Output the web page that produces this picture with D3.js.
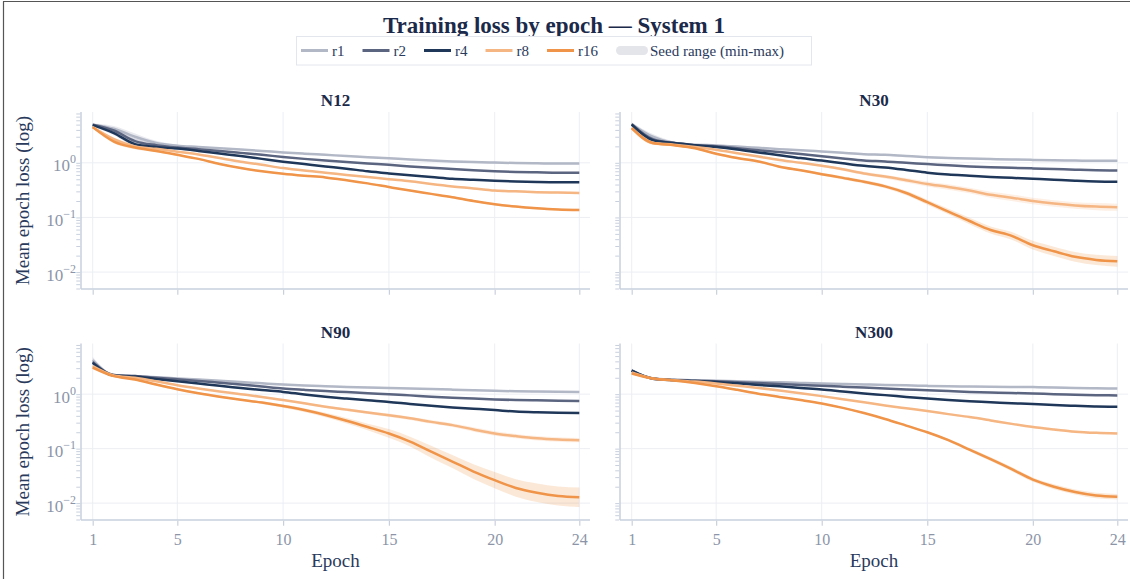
<!DOCTYPE html>
<html>
<head>
<meta charset="utf-8">
<script src="https://cdn.jsdelivr.net/npm/d3@7"></script>
<style>
  html, body { margin: 0; padding: 0; background: #fff; }
  svg { display: block; font-family: "Liberation Serif", "DejaVu Serif", serif; }
</style>
</head>
<body>
<svg id="chart" width="1130" height="579"></svg>
<script>
// ---- data -------------------------------------------------------------
const epochs = [1,2,3,4,5,6,7,8,9,10,11,12,13,14,15,16,17,18,19,20,21,22,23,24];
const ranks = ["r1", "r2", "r4", "r8", "r16"];
const panelNames = ["N12", "N30", "N90", "N300"];
const xTickValues = [1, 5, 10, 15, 20, 24];
const yDecades = [0.01, 0.1, 1];
const yDecadeExp = ["\u22122", "\u22121", "0"];

// mean epoch loss across seeds, one row per rank (r1, r2, r4, r8, r16)
const lossN12 = [
  [5.0, 4.2, 3.0, 2.3, 2.05, 1.95, 1.85, 1.75, 1.65, 1.55, 1.47, 1.40, 1.33, 1.27, 1.21, 1.15, 1.10, 1.06, 1.03, 1.01, 0.99, 0.98, 0.97, 0.97],
  [5.0, 3.9, 2.5, 2.1, 1.9, 1.78, 1.65, 1.52, 1.40, 1.28, 1.18, 1.10, 1.03, 0.97, 0.92, 0.86, 0.81, 0.77, 0.73, 0.70, 0.68, 0.67, 0.66, 0.66],
  [4.9, 3.5, 2.2, 1.95, 1.82, 1.65, 1.48, 1.33, 1.18, 1.05, 0.95, 0.86, 0.78, 0.70, 0.64, 0.59, 0.55, 0.51, 0.49, 0.47, 0.455, 0.445, 0.44, 0.44],
  [4.5, 2.7, 2.0, 1.8, 1.6, 1.42, 1.22, 1.05, 0.92, 0.80, 0.72, 0.66, 0.60, 0.55, 0.50, 0.46, 0.41, 0.37, 0.34, 0.31, 0.30, 0.29, 0.285, 0.28],
  [4.5, 2.45, 1.9, 1.65, 1.40, 1.18, 0.95, 0.80, 0.70, 0.63, 0.58, 0.54, 0.48, 0.42, 0.36, 0.31, 0.27, 0.235, 0.20, 0.175, 0.158, 0.147, 0.14, 0.137]
];
const lossN30 = [
  [5.1, 3.0, 2.3, 2.15, 2.08, 1.98, 1.88, 1.78, 1.70, 1.61, 1.52, 1.44, 1.40, 1.33, 1.27, 1.23, 1.20, 1.17, 1.15, 1.13, 1.11, 1.10, 1.09, 1.09],
  [5.1, 2.7, 2.3, 2.1, 2.0, 1.85, 1.70, 1.57, 1.45, 1.32, 1.20, 1.10, 1.06, 1.00, 0.95, 0.90, 0.86, 0.83, 0.81, 0.79, 0.77, 0.75, 0.73, 0.72],
  [5.0, 2.6, 2.3, 2.1, 1.94, 1.75, 1.55, 1.38, 1.22, 1.10, 0.98, 0.88, 0.82, 0.74, 0.66, 0.61, 0.58, 0.55, 0.53, 0.51, 0.49, 0.47, 0.455, 0.45],
  [4.3, 2.3, 2.15, 1.95, 1.73, 1.5, 1.30, 1.13, 1.0, 0.88, 0.76, 0.64, 0.56, 0.48, 0.41, 0.36, 0.31, 0.26, 0.23, 0.20, 0.18, 0.166, 0.158, 0.154],
  [4.3, 2.3, 2.1, 1.85, 1.46, 1.22, 1.06, 0.85, 0.73, 0.62, 0.53, 0.45, 0.37, 0.28, 0.19, 0.128, 0.086, 0.059, 0.046, 0.031, 0.024, 0.019, 0.0167, 0.0157]
];
const lossN90 = [
  [4.2, 2.25, 2.15, 2.05, 1.94, 1.85, 1.76, 1.67, 1.58, 1.50, 1.44, 1.40, 1.36, 1.33, 1.30, 1.27, 1.24, 1.21, 1.18, 1.15, 1.13, 1.12, 1.11, 1.10],
  [3.9, 2.25, 2.15, 2.0, 1.88, 1.75, 1.62, 1.50, 1.38, 1.27, 1.20, 1.14, 1.09, 1.04, 1.00, 0.95, 0.90, 0.86, 0.83, 0.80, 0.78, 0.77, 0.76, 0.75],
  [3.75, 2.2, 2.1, 1.9, 1.73, 1.57, 1.42, 1.30, 1.19, 1.10, 0.99, 0.90, 0.83, 0.77, 0.72, 0.66, 0.61, 0.57, 0.54, 0.51, 0.48, 0.465, 0.455, 0.45],
  [3.26, 2.2, 2.0, 1.72, 1.46, 1.27, 1.12, 1.00, 0.89, 0.78, 0.68, 0.59, 0.52, 0.46, 0.41, 0.36, 0.31, 0.27, 0.225, 0.19, 0.17, 0.155, 0.147, 0.143],
  [3.08, 2.14, 1.86, 1.5, 1.23, 1.04, 0.90, 0.79, 0.70, 0.605, 0.51, 0.415, 0.325, 0.25, 0.19, 0.135, 0.088, 0.058, 0.038, 0.0264, 0.019, 0.0155, 0.0135, 0.0128]
];
const lossN300 = [
  [2.75, 1.94, 1.85, 1.80, 1.76, 1.72, 1.68, 1.65, 1.61, 1.57, 1.54, 1.51, 1.48, 1.45, 1.42, 1.40, 1.38, 1.37, 1.36, 1.35, 1.33, 1.30, 1.28, 1.27],
  [2.7, 1.94, 1.82, 1.76, 1.72, 1.66, 1.60, 1.54, 1.48, 1.42, 1.37, 1.32, 1.27, 1.22, 1.18, 1.14, 1.10, 1.07, 1.05, 1.03, 1.0, 0.98, 0.96, 0.95],
  [2.7, 1.92, 1.80, 1.74, 1.68, 1.58, 1.48, 1.39, 1.30, 1.22, 1.12, 1.03, 0.96, 0.89, 0.83, 0.78, 0.74, 0.71, 0.68, 0.66, 0.63, 0.61, 0.595, 0.585],
  [2.5, 1.94, 1.80, 1.70, 1.57, 1.43, 1.30, 1.17, 1.04, 0.92, 0.81, 0.71, 0.62, 0.55, 0.49, 0.43, 0.38, 0.33, 0.285, 0.25, 0.225, 0.205, 0.195, 0.19],
  [2.4, 1.94, 1.78, 1.60, 1.40, 1.20, 1.02, 0.89, 0.78, 0.675, 0.56, 0.45, 0.35, 0.265, 0.20, 0.143, 0.096, 0.064, 0.042, 0.027, 0.020, 0.016, 0.0138, 0.0131]
];

// seed min-max half-width around the mean, in decades (log10 units)
const spreadN12 = [
  [0.02, 0.05, 0.06, 0.04, 0.02, 0.015, 0.015, 0.015, 0.015, 0.015, 0.015, 0.015, 0.015, 0.015, 0.015, 0.015, 0.015, 0.015, 0.015, 0.015, 0.015, 0.015, 0.015, 0.015],
  [0.02, 0.04, 0.05, 0.03, 0.02, 0.015, 0.015, 0.015, 0.015, 0.015, 0.015, 0.015, 0.015, 0.015, 0.015, 0.015, 0.015, 0.015, 0.015, 0.015, 0.015, 0.015, 0.015, 0.015],
  [0.02, 0.04, 0.04, 0.03, 0.02, 0.015, 0.015, 0.015, 0.015, 0.015, 0.015, 0.015, 0.015, 0.015, 0.015, 0.015, 0.015, 0.015, 0.015, 0.015, 0.015, 0.015, 0.015, 0.015],
  [0.02, 0.03, 0.03, 0.02, 0.015, 0.015, 0.015, 0.015, 0.015, 0.015, 0.015, 0.015, 0.015, 0.015, 0.015, 0.015, 0.015, 0.015, 0.015, 0.02, 0.02, 0.02, 0.02, 0.02],
  [0.02, 0.03, 0.03, 0.02, 0.015, 0.015, 0.015, 0.015, 0.015, 0.015, 0.015, 0.015, 0.015, 0.015, 0.015, 0.015, 0.015, 0.015, 0.02, 0.02, 0.02, 0.02, 0.02, 0.02]
];
const spreadN30 = [
  [0.03, 0.05, 0.03, 0.02, 0.015, 0.015, 0.015, 0.015, 0.015, 0.015, 0.015, 0.015, 0.015, 0.015, 0.015, 0.015, 0.015, 0.015, 0.015, 0.015, 0.015, 0.015, 0.015, 0.015],
  [0.03, 0.05, 0.03, 0.02, 0.015, 0.015, 0.015, 0.015, 0.015, 0.015, 0.015, 0.015, 0.015, 0.015, 0.015, 0.015, 0.015, 0.015, 0.015, 0.015, 0.015, 0.015, 0.015, 0.015],
  [0.03, 0.04, 0.03, 0.02, 0.015, 0.015, 0.015, 0.015, 0.015, 0.015, 0.015, 0.015, 0.015, 0.015, 0.015, 0.015, 0.015, 0.015, 0.015, 0.015, 0.015, 0.015, 0.015, 0.015],
  [0.02, 0.03, 0.02, 0.015, 0.015, 0.015, 0.015, 0.015, 0.015, 0.02, 0.025, 0.03, 0.035, 0.04, 0.045, 0.05, 0.05, 0.055, 0.06, 0.06, 0.06, 0.06, 0.065, 0.065],
  [0.02, 0.03, 0.02, 0.02, 0.02, 0.02, 0.02, 0.02, 0.02, 0.025, 0.03, 0.03, 0.035, 0.04, 0.045, 0.05, 0.06, 0.065, 0.07, 0.08, 0.085, 0.09, 0.095, 0.1]
];
const spreadN90 = [
  [0.06, 0.02, 0.015, 0.015, 0.015, 0.015, 0.015, 0.015, 0.015, 0.015, 0.015, 0.015, 0.015, 0.015, 0.015, 0.015, 0.015, 0.015, 0.015, 0.015, 0.015, 0.015, 0.015, 0.015],
  [0.05, 0.02, 0.015, 0.015, 0.015, 0.015, 0.015, 0.015, 0.015, 0.015, 0.015, 0.015, 0.015, 0.015, 0.015, 0.015, 0.015, 0.015, 0.015, 0.015, 0.015, 0.015, 0.015, 0.015],
  [0.05, 0.02, 0.015, 0.015, 0.015, 0.015, 0.015, 0.015, 0.015, 0.015, 0.015, 0.015, 0.015, 0.015, 0.015, 0.015, 0.015, 0.015, 0.015, 0.015, 0.015, 0.015, 0.015, 0.015],
  [0.03, 0.02, 0.015, 0.015, 0.015, 0.015, 0.015, 0.015, 0.015, 0.015, 0.02, 0.02, 0.025, 0.025, 0.03, 0.03, 0.035, 0.035, 0.04, 0.04, 0.04, 0.04, 0.04, 0.04],
  [0.03, 0.02, 0.02, 0.02, 0.02, 0.02, 0.02, 0.02, 0.025, 0.03, 0.035, 0.04, 0.05, 0.06, 0.08, 0.09, 0.11, 0.12, 0.135, 0.15, 0.16, 0.17, 0.175, 0.18]
];
const spreadN300 = [
  [0.03, 0.015, 0.015, 0.015, 0.015, 0.015, 0.015, 0.015, 0.015, 0.015, 0.015, 0.015, 0.015, 0.015, 0.015, 0.015, 0.015, 0.015, 0.015, 0.015, 0.015, 0.015, 0.015, 0.015],
  [0.03, 0.015, 0.015, 0.015, 0.015, 0.015, 0.015, 0.015, 0.015, 0.015, 0.015, 0.015, 0.015, 0.015, 0.015, 0.015, 0.015, 0.015, 0.015, 0.015, 0.015, 0.015, 0.015, 0.015],
  [0.03, 0.015, 0.015, 0.015, 0.015, 0.015, 0.015, 0.015, 0.015, 0.015, 0.015, 0.015, 0.015, 0.015, 0.015, 0.015, 0.015, 0.015, 0.015, 0.015, 0.015, 0.015, 0.015, 0.015],
  [0.02, 0.015, 0.015, 0.015, 0.015, 0.015, 0.015, 0.015, 0.015, 0.015, 0.015, 0.015, 0.015, 0.015, 0.015, 0.015, 0.015, 0.02, 0.02, 0.02, 0.02, 0.02, 0.02, 0.02],
  [0.02, 0.015, 0.015, 0.015, 0.015, 0.015, 0.015, 0.015, 0.015, 0.015, 0.015, 0.015, 0.015, 0.02, 0.02, 0.025, 0.03, 0.035, 0.04, 0.04, 0.045, 0.045, 0.05, 0.05]
];

const rankColors = ["#b3b8c7", "#5c6580", "#1f3759", "#f6b683", "#ef9448"];

// ---- layout -----------------------------------------------------------
const svg = d3.select("#chart");
const colX = [[81, 590], [620, 1128]];
const rowY = [[112, 289], [343.5, 520]];
const panels = [
  { name: panelNames[0], loss: lossN12,  spread: spreadN12,  col: 0, row: 0 },
  { name: panelNames[1], loss: lossN30,  spread: spreadN30,  col: 1, row: 0 },
  { name: panelNames[2], loss: lossN90,  spread: spreadN90,  col: 0, row: 1 },
  { name: panelNames[3], loss: lossN300, spread: spreadN300, col: 1, row: 1 }
];

const inkDark = "#1b2a4a";
const tickGrey = "#8c95a8";
const axisGrey = "#c9d0dd";
const gridGrey = "#eceef3";

// outer frame
svg.append("line").attr("x1", 3.5).attr("x2", 3.5).attr("y1", 1.5).attr("y2", 579).attr("stroke", "#555").attr("stroke-width", 1.2);
svg.append("line").attr("x1", 3).attr("x2", 1130).attr("y1", 1.5).attr("y2", 1.5).attr("stroke", "#555").attr("stroke-width", 1.2);

// title
svg.append("text")
  .attr("x", 554).attr("y", 33)
  .attr("text-anchor", "middle")
  .attr("font-size", 23).attr("font-weight", "bold")
  .attr("fill", inkDark)
  .text("Training loss by epoch \u2014 System 1");

// minor tick positions on the log axis (1..9 × 10^k)
const logTicks = [];
[0.001, 0.01, 0.1, 1].forEach(base => {
  [1,2,3,4,5,6,7,8,9].forEach(m => logTicks.push(+(m * base).toPrecision(3)));
});

panels.forEach(p => {
  const [x0, x1] = colX[p.col];
  const [yTop, yBot] = rowY[p.row];
  const x = d3.scaleLinear().domain([1, 24]).range([x0 + 11.7, x1 - 10.7]);
  const y = d3.scaleLog().domain([Math.pow(10, -2.31), Math.pow(10, 0.93)]).range([yBot, yTop]);
  const yLo = y.domain()[0], yHi = y.domain()[1];
  const g = svg.append("g");

  // grid
  g.selectAll(".vgrid").data(xTickValues).join("line")
    .attr("x1", d => x(d)).attr("x2", d => x(d))
    .attr("y1", yTop).attr("y2", yBot)
    .attr("stroke", gridGrey).attr("stroke-width", 1);
  g.selectAll(".hgrid").data(yDecades).join("line")
    .attr("x1", x0).attr("x2", x1)
    .attr("y1", d => y(d)).attr("y2", d => y(d))
    .attr("stroke", gridGrey).attr("stroke-width", 1);

  // seed range bands
  const band = d3.area()
    .x((d, i) => x(epochs[i]))
    .y0(d => y(d.lo)).y1(d => y(d.hi))
    .curve(d3.curveMonotoneX);
  p.loss.forEach((series, k) => {
    const pts = series.map((v, i) => ({
      lo: v / Math.pow(10, p.spread[k][i]),
      hi: v * Math.pow(10, p.spread[k][i])
    }));
    g.append("path").datum(pts)
      .attr("d", band)
      .attr("fill", k >= 3 ? rankColors[k] : "#9aa0b4")
      .attr("fill-opacity", 0.22)
      .attr("stroke", "none");
  });

  // mean lines
  const line = d3.line()
    .x((d, i) => x(epochs[i]))
    .y(d => y(d))
    .curve(d3.curveMonotoneX);
  p.loss.forEach((series, k) => {
    g.append("path").datum(series)
      .attr("d", line)
      .attr("fill", "none")
      .attr("stroke", rankColors[k])
      .attr("stroke-width", 2.5)
      .attr("stroke-linejoin", "round");
  });

  // axis lines
  g.append("line").attr("x1", x0).attr("x2", x1).attr("y1", yBot).attr("y2", yBot)
    .attr("stroke", axisGrey).attr("stroke-width", 1.5);
  g.append("line").attr("x1", x0).attr("x2", x0).attr("y1", yTop).attr("y2", yBot)
    .attr("stroke", axisGrey).attr("stroke-width", 1.5);

  // x axis ticks (labels on the bottom row only)
  const xAxis = d3.axisBottom(x).tickValues(xTickValues).tickSize(5).tickSizeOuter(0).tickPadding(8)
    .tickFormat(p.row === 1 ? d3.format("d") : () => "");
  const xg = g.append("g").attr("transform", `translate(0,${yBot + 0.75})`).call(xAxis);
  xg.select(".domain").remove();
  xg.selectAll(".tick line").attr("stroke", axisGrey).attr("stroke-width", 1.2);
  xg.selectAll(".tick text").attr("fill", tickGrey).attr("font-size", 16)
    .attr("font-family", "Liberation Serif, serif");

  // y axis minor ticks
  const yAxis = d3.axisLeft(y)
    .tickValues(logTicks.filter(v => v >= yLo && v <= yHi))
    .tickSize(4).tickSizeOuter(0).tickFormat(() => "");
  const yg = g.append("g").attr("transform", `translate(${x0 - 0.75},0)`).call(yAxis);
  yg.select(".domain").remove();
  yg.selectAll(".tick line").attr("stroke", axisGrey).attr("stroke-width", 1);

  // y decade labels (left column)
  if (p.col === 0) {
    yDecades.forEach((d, i) => {
      const t = g.append("text")
        .attr("x", x0 - 5).attr("y", y(d) + 8.5)
        .attr("text-anchor", "end")
        .attr("font-size", 17).attr("fill", tickGrey);
      t.append("tspan").text("10");
      t.append("tspan").attr("dy", -8).attr("font-size", 12).text(yDecadeExp[i]);
    });
    g.append("text")
      .attr("transform", `translate(29,${(yTop + yBot) / 2}) rotate(-90)`)
      .attr("text-anchor", "middle")
      .attr("font-size", 19).attr("fill", "#2a3a5c")
      .text("Mean epoch loss (log)");
  }

  // x axis title (bottom row)
  if (p.row === 1) {
    g.append("text")
      .attr("x", (x0 + x1) / 2).attr("y", 567)
      .attr("text-anchor", "middle")
      .attr("font-size", 19).attr("fill", "#2a3a5c")
      .text("Epoch");
  }

  // panel title
  g.append("text")
    .attr("x", (x0 + x1) / 2).attr("y", yTop - 6)
    .attr("text-anchor", "middle")
    .attr("font-size", 17).attr("font-weight", "bold")
    .attr("fill", inkDark)
    .text(p.name);
});

// ---- legend -----------------------------------------------------------
const legend = svg.append("g");
legend.append("rect")
  .attr("x", 296.5).attr("y", 36.5).attr("width", 515).attr("height", 28.5)
  .attr("fill", "#fff").attr("stroke", "#e3e6ec").attr("stroke-width", 1);
let lx = 301;
ranks.forEach((r, k) => {
  legend.append("line")
    .attr("x1", lx).attr("x2", lx + 27).attr("y1", 50.5).attr("y2", 50.5)
    .attr("stroke", rankColors[k]).attr("stroke-width", 3);
  const t = legend.append("text")
    .attr("x", lx + 31).attr("y", 55.5)
    .attr("font-size", 15).attr("fill", "#2a3a5c")
    .text(r);
  lx = lx + 31 + t.node().getComputedTextLength() + 18;
});
legend.append("rect")
  .attr("x", lx).attr("y", 46).attr("width", 32).attr("height", 9).attr("rx", 4.5)
  .attr("fill", "#e4e5ea");
legend.append("text")
  .attr("x", lx + 34).attr("y", 55.5)
  .attr("font-size", 15).attr("fill", "#2a3a5c")
  .text("Seed range (min-max)");
</script>
</body>
</html>
